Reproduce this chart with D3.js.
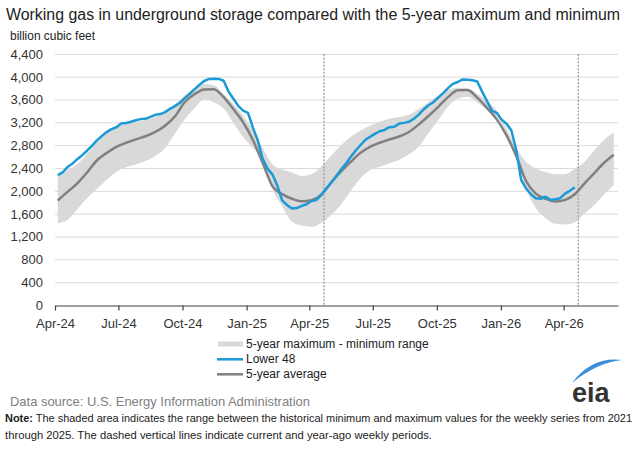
<!DOCTYPE html>
<html>
<head>
<meta charset="utf-8">
<script src="https://cdn.jsdelivr.net/npm/d3@7"></script>
<style>
body { margin: 0; background: #fff; }
text { font-family: "Liberation Sans", Arial, sans-serif; }
</style>
</head>
<body>
<script>
// weekly working gas in storage, Lower 48 (Bcf), starting week of Apr 5 2024
const lower48Start = "2024-04-05";
const lower48 = [
  2283, 2333, 2425, 2484, 2563, 2633, 2711, 2795, 2893, 2967, 3038, 3090, 3122,
  3187, 3197, 3219, 3244, 3265, 3270, 3305, 3340, 3353, 3387, 3445, 3492, 3547,
  3629, 3705, 3785, 3863, 3932, 3969, 3972, 3969, 3937, 3747, 3622, 3497, 3413,
  3373, 3115, 2892, 2571, 2397, 2297, 2101, 1840, 1760, 1698, 1707, 1744, 1773,
  1830, 1846, 1934, 2041, 2145, 2255, 2375, 2476, 2598, 2707, 2802, 2898, 2953,
  3006, 3052, 3075, 3123, 3130, 3186, 3199, 3217, 3272, 3343, 3433, 3508, 3561,
  3641, 3721, 3808, 3882, 3915, 3960, 3954, 3946, 3923, 3746, 3579, 3413, 3375,
  3256, 3185, 3065, 2720, 2200, 2050, 1950, 1880, 1870, 1905, 1850, 1860, 1880,
  1960, 2010, 2070
];

// 5-year statistics read every two weeks, starting Apr 5 2024
const bandStart = "2024-04-05";
const avg5yr = [
  1840, 1990, 2140, 2330, 2540, 2670, 2780, 2850, 2910, 2965, 3040, 3150, 3310,
  3560, 3700, 3785, 3790, 3650, 3440, 3210, 2900, 2500, 2090, 1950, 1870, 1825,
  1845, 1940, 2150, 2340, 2510, 2670, 2780, 2850, 2910, 2960, 3040, 3170, 3320,
  3480, 3650, 3770, 3775, 3640, 3460, 3260, 2980, 2620, 2180, 1960, 1870, 1820,
  1850, 1950, 2140, 2320, 2500, 2640
];
const max5yr = [
  2260, 2370, 2480, 2660, 2860, 3040, 3140, 3190, 3220, 3250, 3300, 3390, 3520,
  3680, 3800, 3880, 3860, 3700, 3530, 3330, 3070, 2760, 2470, 2380, 2330, 2270,
  2300, 2430, 2620, 2800, 2950, 3060, 3150, 3220, 3270, 3300, 3340, 3440, 3560,
  3680, 3780, 3810, 3800, 3710, 3580, 3410, 3100, 2760, 2520, 2400, 2340, 2300,
  2300, 2400, 2520, 2720, 2900, 3030
];
const min5yr = [
  1440, 1500, 1690, 1880, 2040, 2200, 2340, 2420, 2470, 2530, 2620, 2760, 3010,
  3260, 3450, 3610, 3560, 3450, 3200, 2950, 2760, 2540, 2030, 1740, 1470, 1400,
  1380, 1440, 1580, 1760, 2000, 2220, 2370, 2430, 2490, 2550, 2650, 2780, 3020,
  3250, 3480, 3620, 3650, 3560, 3420, 3300, 3020, 2600, 2040, 1710, 1530, 1430,
  1420, 1460, 1610, 1760, 1950, 2110
];

const yTicks = [0, 400, 800, 1200, 1600, 2000, 2400, 2800, 3200, 3600, 4000, 4400];
const xTickDates = ["2024-04-01", "2024-07-01", "2024-10-01", "2025-01-01", "2025-04-01",
                    "2025-07-01", "2025-10-01", "2026-01-01", "2026-04-01"];
const xTickLabels = ["Apr-24", "Jul-24", "Oct-24", "Jan-25", "Apr-25",
                     "Jul-25", "Oct-25", "Jan-26", "Apr-26"];
const markerWeeks = ["2025-04-22", "2026-04-22"];

const width = 640;
const height = 454;
const parse = d3.timeParse("%Y-%m-%d");

const blue = "#1b9ad6";
const gray = "#808080";
const bandFill = "#d9d9d9";

const l48Data = lower48.map((v, i) => ({date: d3.timeDay.offset(parse(lower48Start), 7 * i), v: v}));
const bandData = avg5yr.map((v, i) => ({
  date: d3.timeDay.offset(parse(bandStart), 14 * i),
  avg: v, max: max5yr[i], min: min5yr[i]
}));

const svg = d3.select("body")
  .append("svg")
  .attr("width", width)
  .attr("height", height);

let x = d3.scaleTime()
  .domain([parse("2024-04-01"), parse("2026-06-18")])
  .range([55, 618]);

let y = d3.scaleLinear()
  .domain([0, 4400])
  .range([305.5, 54.3]);

// title
svg.append("text")
  .attr("x", 6).attr("y", 20)
  .attr("font-size", 16)
  .attr("fill", "#222")
  .attr("textLength", 614)
  .attr("lengthAdjust", "spacingAndGlyphs")
  .text("Working gas in underground storage compared with the 5-year maximum and minimum");

svg.append("text")
  .attr("x", 10).attr("y", 40)
  .attr("font-size", 12)
  .attr("fill", "#222")
  .attr("textLength", 85)
  .attr("lengthAdjust", "spacingAndGlyphs")
  .text("billion cubic feet");

// gridlines
svg.append("g")
  .selectAll("line")
  .data(yTicks.filter(d => d > 0))
  .enter()
  .append("line")
  .attr("x1", 55).attr("x2", 618)
  .attr("y1", d => y(d)).attr("y2", d => y(d))
  .attr("stroke", "#d9d9d9")
  .attr("stroke-width", 1);

// y labels
svg.append("g")
  .selectAll("text")
  .data(yTicks)
  .enter()
  .append("text")
  .attr("x", 43)
  .attr("y", d => y(d) + 4.5)
  .attr("text-anchor", "end")
  .attr("font-size", 13)
  .attr("fill", "#333")
  .text(d => d3.format(",")(d));

// 5-year range band
let area = d3.area()
  .x(d => x(d.date))
  .y0(d => y(d.min))
  .y1(d => y(d.max))
  .curve(d3.curveMonotoneX);

svg.append("path")
  .datum(bandData)
  .attr("d", area)
  .attr("fill", bandFill);

// dashed markers
svg.append("g")
  .selectAll("line")
  .data(markerWeeks)
  .enter()
  .append("line")
  .attr("x1", d => x(parse(d))).attr("x2", d => x(parse(d)))
  .attr("y1", y(4400)).attr("y2", y(0))
  .attr("stroke", "#a6a6a6")
  .attr("stroke-width", 1.5)
  .attr("stroke-dasharray", "2,1.5");

let avgLine = d3.line()
  .x(d => x(d.date))
  .y(d => y(d.avg))
  .curve(d3.curveMonotoneX);

svg.append("path")
  .datum(bandData)
  .attr("d", avgLine)
  .attr("fill", "none")
  .attr("stroke", gray)
  .attr("stroke-width", 2.5);

let l48Line = d3.line()
  .x(d => x(d.date))
  .y(d => y(d.v));

svg.append("path")
  .datum(l48Data)
  .attr("d", l48Line)
  .attr("fill", "none")
  .attr("stroke", blue)
  .attr("stroke-width", 2.5)
  .attr("stroke-linejoin", "round");

// x axis
let xAxis = d3.axisBottom(x)
  .tickValues(xTickDates.map(parse))
  .tickFormat((d, i) => xTickLabels[i])
  .tickSizeInner(5)
  .tickSizeOuter(0);

let gx = svg.append("g")
  .attr("transform", "translate(0," + y(0) + ")")
  .call(xAxis);
gx.select(".domain").attr("stroke", "#404040").attr("stroke-width", 1.2);
gx.selectAll(".tick line").attr("stroke", "#404040").attr("stroke-width", 1.2);
gx.selectAll(".tick text")
  .attr("font-size", 13)
  .attr("fill", "#333")
  .attr("dy", null)
  .attr("y", 22)
  .style("font-family", "Liberation Sans, Arial, sans-serif");

// legend
let legend = svg.append("g");
legend.append("rect")
  .attr("x", 218).attr("y", 341.5).attr("width", 25).attr("height", 5)
  .attr("fill", bandFill);
legend.append("line")
  .attr("x1", 217).attr("x2", 243).attr("y1", 359.3).attr("y2", 359.3)
  .attr("stroke", blue).attr("stroke-width", 2.5);
legend.append("line")
  .attr("x1", 217).attr("x2", 243).attr("y1", 374.3).attr("y2", 374.3)
  .attr("stroke", gray).attr("stroke-width", 2.5);
legend.selectAll("text")
  .data(["5-year maximum - minimum range", "Lower 48", "5-year average"])
  .enter()
  .append("text")
  .attr("x", 246)
  .attr("y", (d, i) => 348.3 + i * 15)
  .attr("font-size", 12)
  .attr("fill", "#222")
  .text(d => d);

// source + note
svg.append("text")
  .attr("x", 10).attr("y", 405.5)
  .attr("font-size", 13)
  .attr("fill", "#808080")
  .attr("textLength", 300)
  .attr("lengthAdjust", "spacingAndGlyphs")
  .text("Data source:  U.S. Energy Information Administration");

let note1 = svg.append("text")
  .attr("x", 5).attr("y", 422.3)
  .attr("font-size", 11)
  .attr("fill", "#222")
  .attr("textLength", 627)
  .attr("lengthAdjust", "spacingAndGlyphs");
note1.append("tspan").attr("font-weight", "bold").text("Note:");
note1.append("tspan").text(" The shaded area indicates the range between the historical minimum and maximum values for the weekly series from 2021");

svg.append("text")
  .attr("x", 5).attr("y", 439)
  .attr("font-size", 11)
  .attr("fill", "#222")
  .attr("textLength", 427)
  .attr("lengthAdjust", "spacingAndGlyphs")
  .text("through 2025. The dashed vertical lines indicate current and year-ago weekly periods.");

// eia logo
let logo = svg.append("g");
logo.append("path")
  .attr("d", "M572,383 Q592,356 622,360 Q596,363 572,383 Z")
  .attr("fill", "#3a8fd9");
logo.append("text")
  .attr("x", 572).attr("y", 402)
  .attr("font-size", 27)
  .attr("font-weight", "bold")
  .attr("fill", "#333")
  .text("eia");
</script>
</body>
</html>
